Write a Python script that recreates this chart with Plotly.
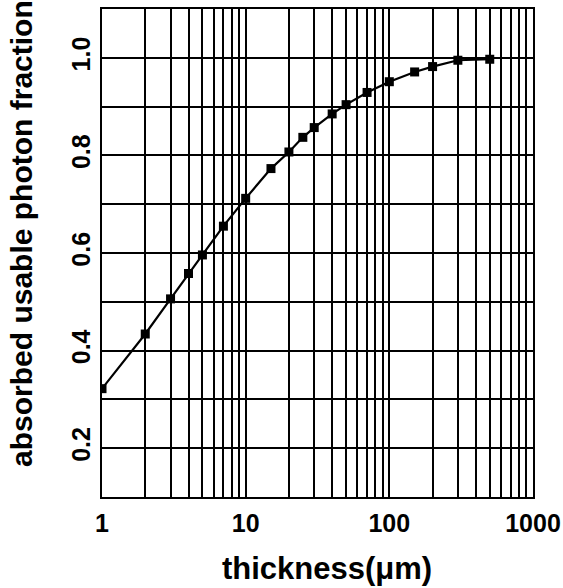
import plotly.graph_objects as go

thickness_um = [1, 2, 3, 4, 5, 7, 10, 15, 20, 25, 30, 40, 50, 70, 100, 150, 200, 300, 500]
absorbed_fraction = [0.322, 0.434, 0.506, 0.558, 0.596, 0.655, 0.712, 0.773, 0.807, 0.837,
                     0.857, 0.885, 0.904, 0.929, 0.951, 0.971, 0.982, 0.995, 0.997]

x_tick_vals = [1, 10, 100, 1000]
x_tick_text = ["1", "10", "100", "1000"]
x_minor_vals = [m * d for d in (1, 10, 100) for m in range(2, 10)]
y_tick_vals = [0.2, 0.4, 0.6, 0.8, 1.0]
y_tick_text = ["0.2", "0.4", "0.6", "0.8", "1.0"]

FONT = "Liberation Sans, Arial, sans-serif"

fig = go.Figure()
fig.add_trace(go.Scatter(
    x=thickness_um, y=absorbed_fraction, mode="lines+markers",
    line=dict(color="black", width=2.2),
    marker=dict(symbol="square", size=9, color="black"),
    showlegend=False,
))

fig.update_layout(
    width=563, height=588,
    margin=dict(l=102, r=30, t=9, b=91, autoexpand=False),
    paper_bgcolor="white", plot_bgcolor="white",
    font=dict(family=FONT, color="black"),
    xaxis=dict(
        type="log", range=[0, 3], automargin=False,
        tickmode="array", tickvals=x_tick_vals, ticktext=x_tick_text,
        tickfont=dict(size=25, family=FONT, weight="bold"),
        showgrid=True, gridcolor="black", gridwidth=2,
        minor=dict(tickmode="array", tickvals=x_minor_vals, showgrid=True,
                   gridcolor="black", gridwidth=2, ticks=""),
        showline=True, linecolor="black", linewidth=2, mirror=True,
        ticks="", ticklabelstandoff=3, zeroline=False,
    ),
    yaxis=dict(
        range=[0.1, 1.1], automargin=False,
        tickmode="array", tickvals=y_tick_vals, ticktext=y_tick_text,
        tickangle=-90,
        tickfont=dict(size=25, family=FONT, weight="bold"),
        showgrid=True, gridcolor="black", gridwidth=2,
        minor=dict(dtick=0.1, tick0=0.1, showgrid=True, gridcolor="black",
                   gridwidth=2, ticks=""),
        showline=True, linecolor="black", linewidth=2, mirror=True,
        ticks="", ticklabelstandoff=0, zeroline=False,
    ),
    annotations=[
        dict(text="thickness(μm)", xref="paper", yref="paper", x=0.522, y=-0.1455,
             xanchor="center", yanchor="middle", showarrow=False,
             font=dict(size=31, family=FONT, weight="bold", color="black")),
        dict(text="absorbed usable photon fraction", xref="paper", yref="paper",
             x=-0.1856, y=0.539, textangle=-90, xanchor="center", yanchor="middle",
             showarrow=False,
             font=dict(size=30, family=FONT, weight="bold", color="black")),
    ],
)

fig.write_html("out.html")
